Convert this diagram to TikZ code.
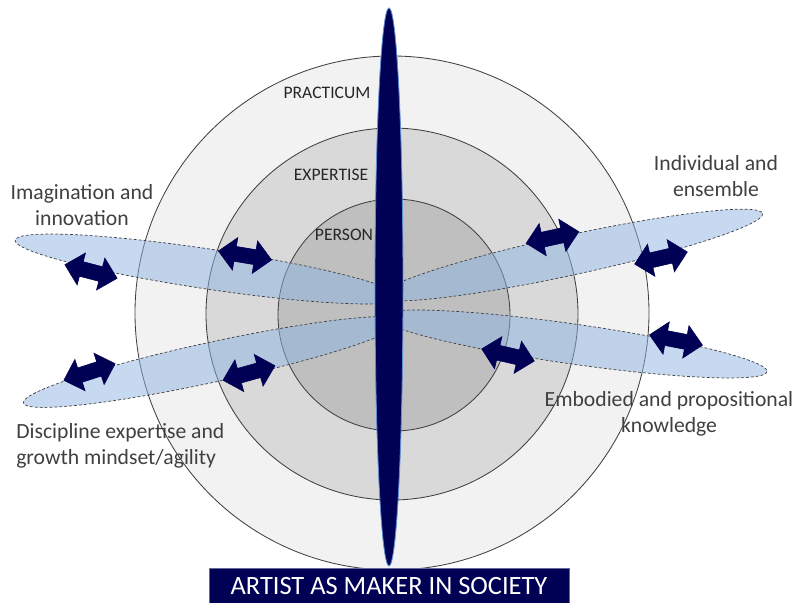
\documentclass[tikz,border=0pt]{standalone}
\usepackage{fontspec}
\setmainfont{Carlito}
\definecolor{navy}{RGB}{0,0,84}
\definecolor{ringline}{RGB}{64,64,64}
\definecolor{outer}{RGB}{242,242,242}
\definecolor{middle}{RGB}{217,217,217}
\definecolor{inner}{RGB}{191,191,191}
\definecolor{lensblue}{RGB}{141,180,226}
\definecolor{rim}{RGB}{91,140,210}
\tikzset{
  ring/.style={draw=ringline,line width=0.6pt},
  lens/.style={fill=lensblue,fill opacity=0.5,draw=ringline,line width=0.5pt,dash pattern=on 2pt off 1.5pt},
  spindle/.style={fill=navy,draw=rim,line width=0.6pt},
  twoway/.pic={
    \filldraw[navy,line width=0.4pt,line join=miter] (-27,0) -- (-10,-16.5) -- (-10,-7.5) -- (10,-7.5) -- (10,-16.5)
      -- (27,0) -- (10,16.5) -- (10,7.5) -- (-10,7.5) -- (-10,16.5) -- cycle;
  },
  ringlabel/.style={text=black!85,font=\fontsize{12.5}{14}\selectfont,inner sep=0pt},
  side/.style={text=ringline,font=\fontsize{15.4}{18.5}\selectfont,align=center,inner sep=0pt},
  banner/.style={fill=navy,draw=navy!60!white,line width=0.5pt,text=white,font=\fontsize{18.8}{20}\selectfont,
    minimum width=9cm,minimum height=0.9cm,inner sep=0pt}
}
\begin{document}
\begin{tikzpicture}[x=0.025cm,y=-0.025cm]
\useasboundingbox (0,0) rectangle (798,603);
% the three rings
\draw[ring,fill=outer] (392,313) circle [radius=257];
\draw[ring,fill=middle] (392,314) circle [radius=186];
\draw[ring,fill=inner] (394,315) circle [radius=116];
\node[ringlabel] (practicum) at (327,93) {PRACTICUM};
\node[ringlabel] (expertise) at (331,175) {EXPERTISE};
\node[ringlabel] (person) at (344,235) {PERSON};
% four lenses through the middle
\draw[lens,rotate around={-8.5:(208,269)}] (208,269) ellipse [x radius=195,y radius=20];
\draw[lens,rotate around={12.2:(213,362)}] (213,362) ellipse [x radius=194,y radius=20];
\draw[lens,rotate around={12.2:(571,255)}] (571,255) ellipse [x radius=196,y radius=20];
\draw[lens,rotate around={-8.1:(573,344)}] (573,344) ellipse [x radius=196,y radius=20];
% vertical axis
\draw[spindle] (389,287) ellipse [x radius=14,y radius=279];
% two-way arrows
\pic[rotate=-14.6] (a1) at (91,271.5) {twoway};
\pic[rotate=-9.5] (a2) at (245,255.5) {twoway};
\pic[rotate=18] (a3) at (89.5,372) {twoway};
\pic[rotate=15.6] (a4) at (249,373) {twoway};
\pic[rotate=12.4] (a5) at (552.5,237.5) {twoway};
\pic[rotate=13] (a6) at (661,258) {twoway};
\pic[rotate=-11] (a7) at (676,340) {twoway};
\pic[rotate=-13] (a8) at (508,355) {twoway};
% side labels
\node[side] (imagination) at (82,205) {Imagination and\\innovation};
\node[side] (individual) at (716,176) {Individual and\\ensemble};
\node[side] (embodied) at (669,414) {Embodied and propositional\\knowledge};
\node[side,align=left,anchor=west] (discipline) at (16,446) {Discipline expertise and\\growth mindset/agility};
% title bar
\node[banner] (society) at (389,586) {ARTIST AS MAKER IN SOCIETY};
\end{tikzpicture}
\end{document}
